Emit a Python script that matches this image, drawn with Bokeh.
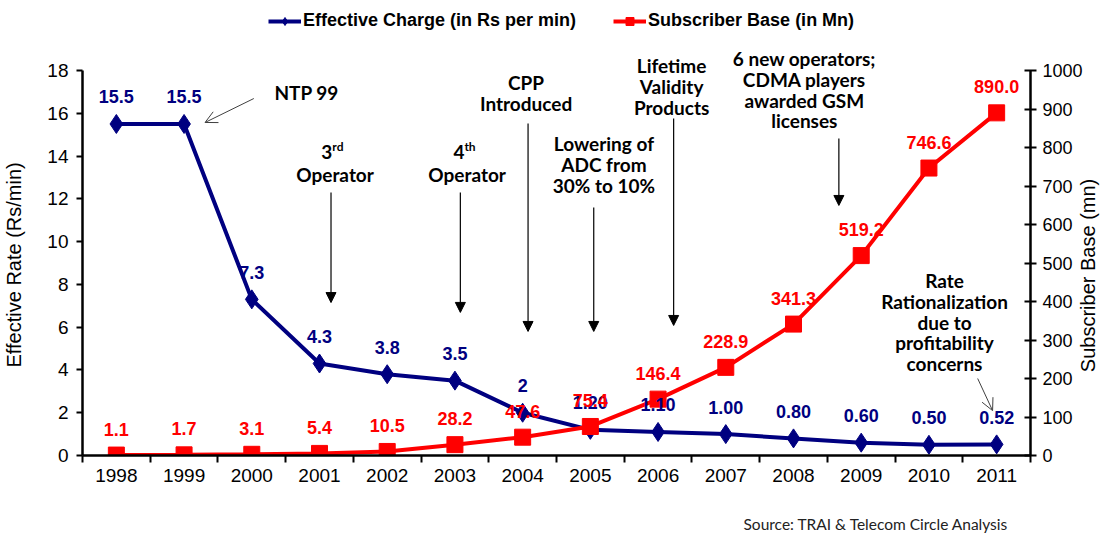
import math
from bokeh.plotting import figure
from bokeh.models import (Range1d, LinearAxis, FixedTicker, SingleIntervalTicker,
                          ColumnDataSource, LabelSet, Label, Arrow, NormalHead,
                          OpenHead, Legend, LegendItem, Title)
from bokeh.core.properties import value
from bokeh.embed import file_html
from bokeh.resources import INLINE

# ---------------- data ----------------
years = [1998, 1999, 2000, 2001, 2002, 2003, 2004, 2005, 2006, 2007, 2008, 2009, 2010, 2011]
rate = [15.5, 15.5, 7.3, 4.3, 3.8, 3.5, 2.0, 1.2, 1.1, 1.0, 0.8, 0.6, 0.5, 0.52]
rate_labels = ["15.5", "15.5", "7.3", "4.3", "3.8", "3.5", "2", "1.20", "1.10",
               "1.00", "0.80", "0.60", "0.50", "0.52"]
subs = [1.1, 1.7, 3.1, 5.4, 10.5, 28.2, 47.6, 75.4, 146.4, 228.9, 341.3, 519.2, 746.6, 890.0]
subs_labels = [f"{v:.1f}" for v in subs]

series_names = ["Effective Charge (in Rs per min)", "Subscriber Base (in Mn)"]
left_title = "Effective Rate (Rs/min)"
right_title = "Subscriber Base (mn)"
source_note = "Source: TRAI & Telecom Circle  Analysis"

RATE_MAX = 18
SUBS_MAX = 1000

# annotation texts (lines) with anchor (year, rate)
notes = [
    (["NTP 99"], 2000.81, 16.97),
    (["CPP", "Introduced"], 2004.05, 17.44),
    (["Lowering of", "ADC from", "30% to 10%"], 2005.20, 14.59),
    (["Lifetime", "Validity", "Products"], 2006.20, 18.23),
    (["6 new operators;", "CDMA players", "awarded GSM", "licenses"], 2008.16, 18.56),
    (["Rate", "Rationalization", "due to", "profitability", "concerns"], 2010.23, 8.18),
]
ordinal_notes = [("3", "rd", 2001.19), ("4", "th", 2003.14)]
down_arrows = [(2001.17, 12.30, 7.15), (2003.08, 12.30, 6.69), (2004.08, 15.52, 5.80),
               (2005.05, 11.59, 5.80), (2006.23, 15.76, 6.08), (2008.67, 14.82, 11.69)]
thin_arrows = [(2000.03, 16.69, 1999.31, 15.57), (2010.72, 3.60, 2010.94, 2.10)]

BLUE = "#000080"
RED = "#FF0000"
NUMFONT = "Liberation Sans"
NOTEFONT = "Lato"

# layout (pixels)
W, H = 1112, 538
LEFT, FRAME_W = 82, 951
AXIS_Y = 455            # pixel row of the x axis
PLOT_H = 385            # pixel height of the 0..18 band
extend = AXIS_Y / PLOT_H  # frame reaches to the top of the canvas

p = figure(width=W, height=H, output_backend="svg", toolbar_location=None,
           x_range=Range1d(1997.5, 2011.5), y_range=Range1d(0, RATE_MAX * extend),
           min_border_left=LEFT, min_border_right=W - LEFT - FRAME_W,
           min_border_top=0, min_border_bottom=H - AXIS_Y)
p.extra_y_ranges = {"subs": Range1d(0, SUBS_MAX * extend)}
p.grid.visible = False
p.outline_line_color = None
p.background_fill_color = "white"
p.border_fill_color = "white"

# x axis
xa = p.xaxis[0]
xa.ticker = FixedTicker(ticks=years, minor_ticks=[y - 0.5 for y in years] + [years[-1] + 0.5])
xa.major_tick_out = 0
xa.major_tick_in = 0
xa.minor_tick_out = 7
xa.minor_tick_in = 0
xa.minor_tick_line_color = "black"
xa.minor_tick_line_width = 2
xa.axis_line_width = 2.5
xa.axis_line_color = "black"
xa.major_label_text_font = NUMFONT
xa.major_label_text_font_size = "19px"
xa.major_label_text_color = "black"
xa.major_label_standoff = 6
# invisible spacer label: keeps the source note low on the page
xa.axis_label = "\u00a0"
xa.axis_label_text_font_size = "1px"
xa.axis_label_standoff = 26

# left axis
ya = p.yaxis[0]
ya.bounds = (0, RATE_MAX)
ya.ticker = SingleIntervalTicker(interval=2, num_minor_ticks=0)
ya.major_tick_out = 6
ya.major_tick_in = 0
ya.major_tick_line_width = 2
ya.axis_line_width = 2.5
ya.axis_line_color = "black"
ya.major_label_text_font = NUMFONT
ya.major_label_text_font_size = "19px"
ya.major_label_text_color = "black"
ya.major_label_standoff = 8
# invisible spacer label: pushes the title outward
ya.axis_label = "\u00a0"
ya.axis_label_text_font_size = "1px"
ya.axis_label_standoff = 16
p.add_layout(Title(text=left_title, align="left", offset=88, text_font=NUMFONT,
                   text_font_size="20px", text_font_style="normal", text_color="black",
                   standoff=0), "left")

# right axis
ra = LinearAxis(y_range_name="subs", bounds=(0, SUBS_MAX),
                ticker=SingleIntervalTicker(interval=100, num_minor_ticks=0))
ra.major_tick_out = 6
ra.major_tick_in = 6
ra.major_tick_line_width = 2
ra.axis_line_width = 2.5
ra.axis_line_color = "black"
ra.major_label_text_font = NUMFONT
ra.major_label_text_font_size = "18px"
ra.major_label_text_color = "black"
ra.major_label_standoff = 6
ra.axis_label = "\u00a0" * 15 + right_title
ra.axis_label_text_font = NUMFONT
ra.axis_label_text_font_style = "normal"
ra.axis_label_text_font_size = "20px"
ra.axis_label_text_color = "black"
ra.axis_label_standoff = 2
ra.axis_label_orientation = math.pi / 2
ra.axis_label_align = "start"
p.add_layout(ra, "right")

# series
bl = p.line(years, rate, line_color=BLUE, line_width=4)
bp = p.scatter(years, rate, marker="diamond", size=19, fill_color=BLUE, line_color=BLUE)
rl = p.line(years, subs, line_color=RED, line_width=4, y_range_name="subs")
rp = p.scatter(years, subs, marker="square", size=16, fill_color=RED, line_color=RED,
               y_range_name="subs")

bsrc = ColumnDataSource(dict(x=years, y=rate, t=rate_labels))
rsrc = ColumnDataSource(dict(x=years, y=subs, t=subs_labels))
p.add_layout(LabelSet(x="x", y="y", text="t", source=bsrc, y_offset=27,
                      text_align="center", text_baseline="middle",
                      text_font=value(NUMFONT), text_font_style="bold",
                      text_font_size="18px", text_color=BLUE))
p.add_layout(LabelSet(x="x", y="y", text="t", source=rsrc, y_offset=26, y_range_name="subs",
                      text_align="center", text_baseline="middle",
                      text_font=value(NUMFONT), text_font_style="bold",
                      text_font_size="18px", text_color=RED))

# legend
legend = Legend(items=[LegendItem(label=series_names[0], renderers=[bl, bp]),
                       LegendItem(label=series_names[1], renderers=[rl, rp])],
                location=(186, 424), orientation="horizontal",
                label_text_font=NUMFONT, label_text_font_style="bold",
                label_text_font_size="18px", label_text_color="black",
                glyph_width=33, glyph_height=20, label_standoff=2, spacing=37,
                padding=0, margin=0, border_line_color=None, background_fill_alpha=0)
p.add_layout(legend)

# annotations
LINE_STEP = 20.8 * RATE_MAX / PLOT_H  # one text line, in rate units
for lines, xx, yy in notes:
    for i, t in enumerate(lines):
        p.add_layout(Label(x=xx, y=yy - i * LINE_STEP, text=t, text_align="center",
                           text_baseline="middle", text_font=NOTEFONT,
                           text_font_style="bold", text_font_size="19px",
                           text_color="black"))
for num, suf, xx in ordinal_notes:
    p.add_layout(Label(x=xx, y=14.17, text=num, text_align="right", text_baseline="middle",
                       text_font=NOTEFONT, text_font_style="bold", text_font_size="19px",
                       text_color="black"))
    p.add_layout(Label(x=xx, y=14.45, text=suf, text_align="left", text_baseline="middle",
                       text_font=NOTEFONT, text_font_style="bold", text_font_size="12px",
                       text_color="black"))
    p.add_layout(Label(x=xx + 0.04, y=13.13, text="Operator", text_align="center",
                       text_baseline="middle", text_font=NOTEFONT, text_font_style="bold",
                       text_font_size="19px", text_color="black"))

for xx, y0, y1 in down_arrows:
    p.add_layout(Arrow(x_start=xx, y_start=y0, x_end=xx, y_end=y1, line_width=1.2,
                       line_color="black",
                       end=NormalHead(size=10, fill_color="black", line_color="black")))
for x0, y0, x1, y1 in thin_arrows:
    p.add_layout(Arrow(x_start=x0, y_start=y0, x_end=x1, y_end=y1, line_width=1,
                       line_color="#404040",
                       end=OpenHead(size=12, line_color="#404040", line_width=1)))

p.add_layout(Title(text=source_note, align="left", offset=661, text_font=NOTEFONT,
                   text_font_size="15.5px", text_font_style="normal", text_color="#222222",
                   standoff=0, vertical_align="top"), "below")

open("out.html", "w").write(file_html(p, INLINE))
